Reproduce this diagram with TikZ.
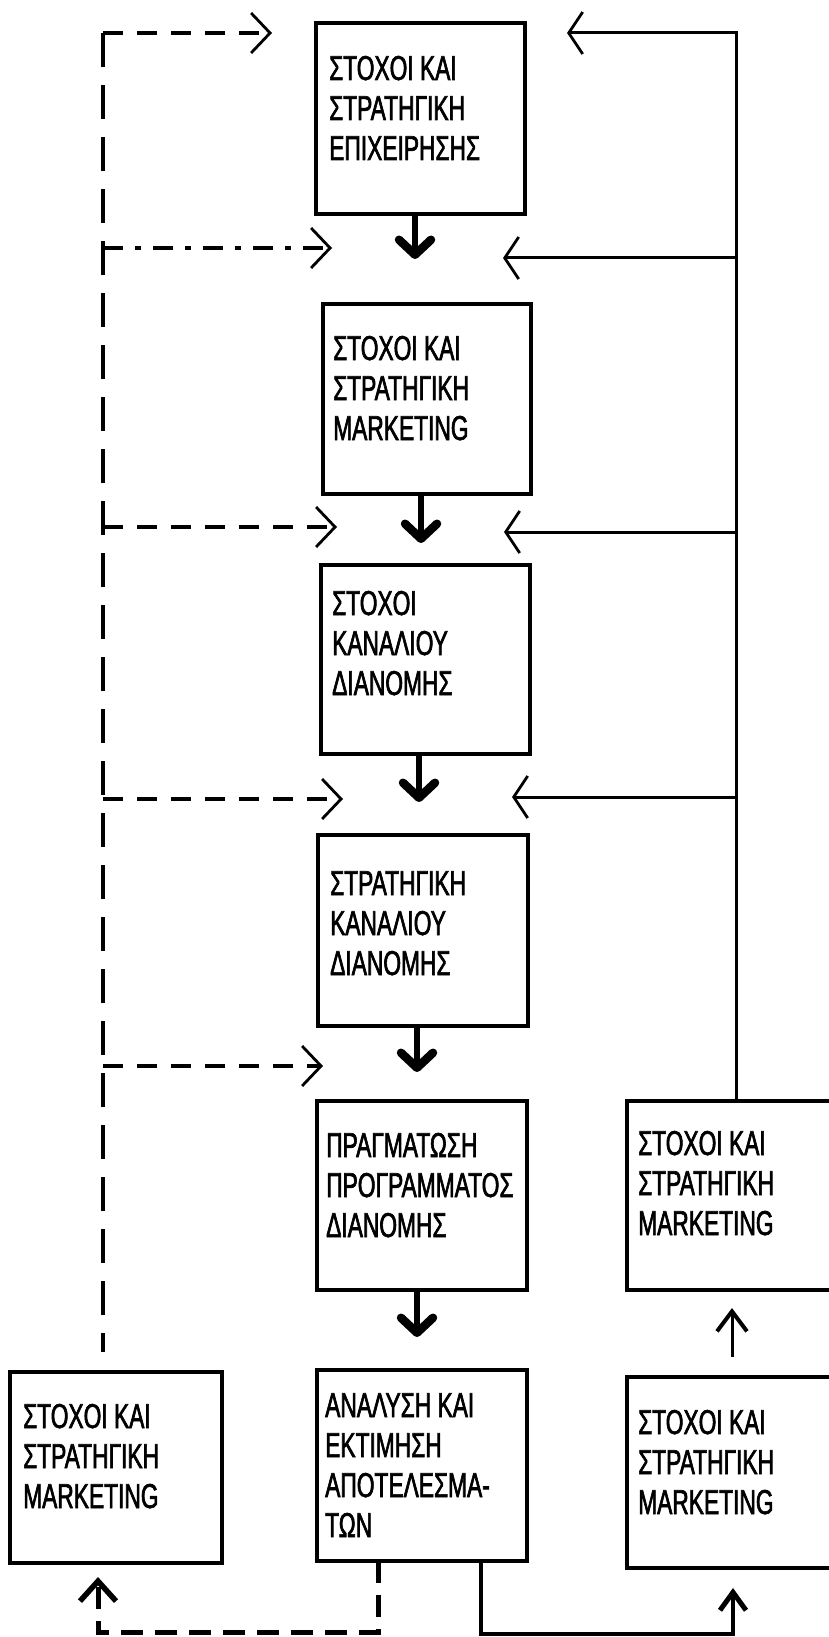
\documentclass[tikz,border=0pt]{standalone}
\usepackage{fontspec}
\setmainfont{Liberation Sans}[FakeStretch=0.66,FakeBold=1.8]
\usetikzlibrary{arrows.meta}
% several lines of a box label; the baseline of the block is that of its first line
\newcommand\stacklines[1]{\vtop{\baselineskip=40pt\lineskiplimit=-100pt\relax #1}}

\begin{document}
\begin{tikzpicture}[x=1pt,y=-1pt,
  box/.style={draw,line width=3.5pt,anchor=north west,inner sep=0pt,outer sep=0pt},
  txt/.style={anchor=base west,inner sep=0pt,font=\fontsize{34.5}{40}\selectfont},
  flow/.style={line width=6pt,-{Straight Barb[length=15pt,width=32pt,line width=8.5pt,round]}},
  fbvert/.style={line width=3.5pt,dash pattern=on 34pt off 18pt},
  fbdash/.style={line width=3.5pt,dash pattern=on 20pt off 14pt,
     -{Straight Barb[length=19pt,width=40pt,line width=2.8pt]}},
  fbdashdot/.style={line width=3.5pt,dash pattern=on 20pt off 12pt on 6pt off 12pt,
     -{Straight Barb[length=19pt,width=40pt,line width=2.8pt]}},
  fbsolid/.style={line width=3pt,-{Straight Barb[length=14pt,width=42pt,line width=2.8pt]}},
  upsolid/.style={line width=3pt,-{Straight Barb[length=20pt,width=30pt,line width=4pt]}},
  botdash/.style={line width=5pt,dash pattern=on 22pt off 12pt,
     -{Straight Barb[length=20pt,width=36pt,line width=5.5pt]}},
  botsolid/.style={line width=4pt,-{Straight Barb[length=18pt,width=26pt,line width=5pt]}}
]
\useasboundingbox (0,0) rectangle (829,1637);
\clip (0,0) rectangle (829,1637);

% main chain of boxes
\node[box,minimum width=209pt,minimum height=191pt] (b1) at (316,23) {};
\node[box,minimum width=208pt,minimum height=190pt] (b2) at (323,304) {};
\node[box,minimum width=209pt,minimum height=189pt] (b3) at (321,565) {};
\node[box,minimum width=210pt,minimum height=191pt] (b4) at (318,835) {};
\node[box,minimum width=210pt,minimum height=189pt] (b5) at (317,1101) {};
\node[box,minimum width=210pt,minimum height=191pt] (b6) at (317,1370) {};
% side boxes
\node[box,minimum width=212pt,minimum height=191pt] (bl) at (10,1372) {};
\node[box,minimum width=230pt,minimum height=189pt] (br1) at (627,1101) {};
\node[box,minimum width=230pt,minimum height=191pt] (br2) at (627,1377) {};

% labels
\node[txt] (t1) at (329,80) {\stacklines{\hbox{ΣΤΟΧΟΙ ΚΑΙ}\hbox{ΣΤΡΑΤΗΓΙΚΗ}\hbox{ΕΠΙΧΕΙΡΗΣΗΣ}}};
\node[txt] (t2) at (333,360) {\stacklines{\hbox{ΣΤΟΧΟΙ ΚΑΙ}\hbox{ΣΤΡΑΤΗΓΙΚΗ}\hbox{MARKETING}}};
\node[txt] (t3) at (332,615) {\stacklines{\hbox{ΣΤΟΧΟΙ}\hbox{ΚΑΝΑΛΙΟΥ}\hbox{ΔΙΑΝΟΜΗΣ}}};
\node[txt] (t4) at (330,895) {\stacklines{\hbox{ΣΤΡΑΤΗΓΙΚΗ}\hbox{ΚΑΝΑΛΙΟΥ}\hbox{ΔΙΑΝΟΜΗΣ}}};
\node[txt] (t5) at (326,1157) {\stacklines{\hbox{ΠΡΑΓΜΑΤΩΣΗ}\hbox{ΠΡΟΓΡΑΜΜΑΤΟΣ}\hbox{ΔΙΑΝΟΜΗΣ}}};
\node[txt] (t6) at (325,1417) {\stacklines{\hbox{ΑΝΑΛΥΣΗ ΚΑΙ}\hbox{ΕΚΤΙΜΗΣΗ}\hbox{ΑΠΟΤΕΛΕΣΜΑ-}\hbox{ΤΩΝ}}};
\node[txt] (tl) at (23,1428) {\stacklines{\hbox{ΣΤΟΧΟΙ ΚΑΙ}\hbox{ΣΤΡΑΤΗΓΙΚΗ}\hbox{MARKETING}}};
\node[txt] (tr1) at (638,1155) {\stacklines{\hbox{ΣΤΟΧΟΙ ΚΑΙ}\hbox{ΣΤΡΑΤΗΓΙΚΗ}\hbox{MARKETING}}};
\node[txt] (tr2) at (638,1434) {\stacklines{\hbox{ΣΤΟΧΟΙ ΚΑΙ}\hbox{ΣΤΡΑΤΗΓΙΚΗ}\hbox{MARKETING}}};

% downward flow between the stages
\coordinate (d1) at (415,259);
\coordinate (d2) at (421,543);
\coordinate (d3) at (419,802);
\coordinate (d4) at (417,1072);
\coordinate (d5) at (417,1337);
\draw[flow] (d1 |- b1.south) -- (d1);
\draw[flow] (d2 |- b2.south) -- (d2);
\draw[flow] (d3 |- b3.south) -- (d3);
\draw[flow] (d4 |- b4.south) -- (d4);
\draw[flow] (d5 |- b5.south) -- (d5);

% left feedback line (dashed)
\coordinate (lt) at (103,33);
\coordinate (lb) at (103,1352);
\draw[fbvert] (lt) -- (lb);
\coordinate (a1) at (272,33);
\coordinate (a2) at (332,248);
\coordinate (a3) at (337,527);
\coordinate (a4) at (343,799);
\coordinate (a5) at (323,1066);
\draw[fbdash] (lt) -- (a1);
\draw[fbdashdot] (a2 -| lt) -- (a2);
\draw[fbdash] (a3 -| lt) -- (a3);
\draw[fbdash] (a4 -| lt) -- (a4);
\draw[fbdash] (a5 -| lt) -- (a5);

% right feedback line (solid)
\coordinate (rt) at (736,33);
\coordinate (r1) at (567,33);
\coordinate (r2) at (503,258);
\coordinate (r3) at (504,532);
\coordinate (r4) at (512,797);
\draw[fbsolid] (br1.north -| rt) -- (rt) -- (r1);
\draw[fbsolid] (r2 -| rt) -- (r2);
\draw[fbsolid] (r3 -| rt) -- (r3);
\draw[fbsolid] (r4 -| rt) -- (r4);

% between the two right-hand boxes
\coordinate (u1) at (732,1357);
\coordinate (u2) at (732,1308);
\draw[upsolid] (u1) -- (u2);

% outputs of the analysis box
\coordinate (q1) at (378,1632);
\coordinate (q2) at (98,1632);
\coordinate (q3) at (98,1577);
\draw[botdash] (b6.south -| q1) -- (q1) -- (q2) -- (q3);
\coordinate (s1) at (481,1634);
\coordinate (s2) at (733,1634);
\coordinate (s3) at (733,1588);
\draw[botsolid] (b6.south -| s1) -- (s1) -- (s2) -- (s3);
\end{tikzpicture}
\end{document}
